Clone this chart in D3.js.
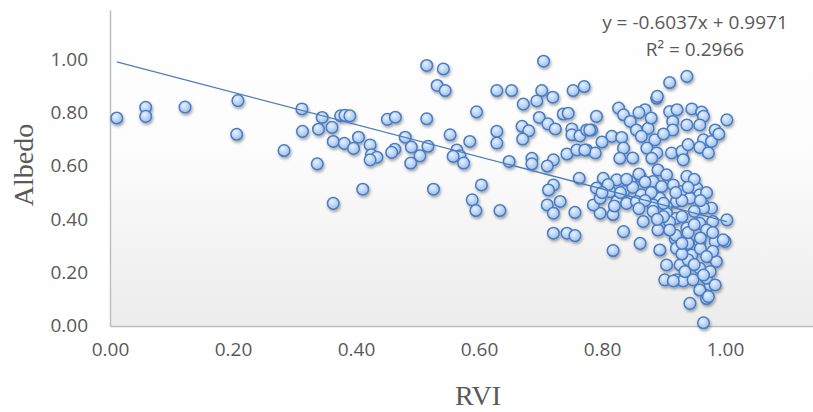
<!DOCTYPE html>
<html>
<head>
<meta charset="utf-8">
<script src="https://cdn.jsdelivr.net/npm/d3@7"></script>
<style>
  body { margin: 0; background: #fff; }
  svg { display: block; }
  .tick text { font-family: 'Open Sans', sans-serif; font-size: 19px; fill: #595959; }
</style>
</head>
<body>
<svg id="chart" width="813" height="412"></svg>
<script>
// RVI (x) and Albedo (y), one point per index
const rvi = [
  0.011, 0.058, 0.058, 0.122, 0.208, 0.206, 0.283, 0.312, 0.313, 0.337,
  0.345, 0.339, 0.361, 0.363, 0.375, 0.382, 0.390, 0.381, 0.396, 0.404,
  0.411, 0.363, 0.515, 0.542, 0.532, 0.545, 0.705, 0.629, 0.653, 0.702,
  0.672, 0.694, 0.720, 0.753, 0.771, 0.451, 0.464, 0.515, 0.596, 0.698,
  0.737, 0.745, 0.712, 0.724, 0.751, 0.670, 0.681, 0.671, 0.629, 0.629,
  0.585, 0.553, 0.480, 0.490, 0.517, 0.504, 0.489, 0.463, 0.458, 0.423,
  0.425, 0.434, 0.423, 0.564, 0.569, 0.575, 0.558, 0.649, 0.686, 0.686,
  0.721, 0.711, 0.743, 0.759, 0.775, 0.751, 0.764, 0.775, 0.763, 0.526,
  0.604, 0.589, 0.595, 0.634, 0.721, 0.713, 0.711, 0.721, 0.732, 0.756,
  0.721, 0.743, 0.756, 0.818, 0.835, 0.797, 0.786, 0.818, 0.862, 0.867,
  0.894, 0.902, 0.921, 0.932, 0.905, 0.943, 0.965, 0.959, 0.970, 0.976,
  0.970, 1.000, 1.003, 0.889, 0.870, 0.910, 0.922, 0.946, 0.962, 0.965,
  1.003, 0.915, 0.938, 0.959, 0.915, 0.984, 0.965, 0.959, 0.973, 0.978,
  0.913, 0.932, 0.930, 0.791, 0.827, 0.835, 0.846, 0.783, 0.816, 0.832,
  0.856, 0.875, 0.864, 0.886, 0.835, 0.829, 0.789, 0.873, 0.889, 0.881,
  0.891, 0.862, 0.938, 0.905, 0.802, 0.824, 0.846, 0.791, 0.813, 0.835,
  0.797, 0.824, 0.840, 0.883, 0.897, 0.916, 0.930, 0.954, 0.959, 0.943,
  0.921, 0.894, 0.883, 0.905, 0.965, 0.978, 0.864, 0.856, 0.883, 0.891,
  0.905, 0.921, 0.938, 0.959, 0.980, 0.965, 0.919, 0.940, 0.959, 0.984,
  0.997, 0.921, 0.946, 0.973, 0.986, 0.927, 0.940, 0.959, 0.976, 0.916,
  0.948, 0.984, 0.973, 0.965, 0.935, 0.938, 0.910, 0.890, 0.932, 0.780,
  0.772, 0.930, 0.950, 0.910, 0.940, 0.970, 0.920, 0.960, 0.930, 0.950,
  0.980, 0.900, 0.880, 0.850, 0.870, 0.820, 0.810, 0.840, 0.860, 0.950,
  0.970, 0.880, 0.860, 0.800, 0.850, 0.900, 0.940, 0.990, 0.900, 0.920,
  0.940, 0.960, 0.890, 0.930, 0.950, 0.910, 0.960, 0.930, 0.870, 0.830,
  0.800, 0.860, 0.980, 0.970
]
const albedo = [
  0.780, 0.820, 0.786, 0.821, 0.845, 0.719, 0.658, 0.814, 0.730, 0.608,
  0.782, 0.738, 0.745, 0.692, 0.788, 0.790, 0.788, 0.685, 0.666, 0.708,
  0.513, 0.460, 0.977, 0.964, 0.902, 0.883, 0.993, 0.883, 0.883, 0.883,
  0.832, 0.844, 0.858, 0.883, 0.898, 0.775, 0.783, 0.777, 0.803, 0.782,
  0.795, 0.798, 0.758, 0.739, 0.739, 0.749, 0.732, 0.701, 0.730, 0.686,
  0.692, 0.717, 0.708, 0.671, 0.674, 0.638, 0.611, 0.663, 0.651, 0.679,
  0.642, 0.633, 0.623, 0.660, 0.638, 0.611, 0.636, 0.617, 0.629, 0.608,
  0.623, 0.600, 0.645, 0.660, 0.660, 0.717, 0.713, 0.735, 0.554, 0.513,
  0.529, 0.473, 0.433, 0.433, 0.529, 0.510, 0.454, 0.423, 0.467, 0.426,
  0.348, 0.348, 0.339, 0.283, 0.354, 0.423, 0.454, 0.418, 0.310, 0.392,
  0.285, 0.173, 0.173, 0.169, 0.229, 0.085, 0.012, 0.135, 0.103, 0.154,
  0.179, 0.317, 0.398, 0.854, 0.811, 0.804, 0.811, 0.814, 0.802, 0.786,
  0.773, 0.767, 0.754, 0.754, 0.735, 0.735, 0.698, 0.670, 0.649, 0.692,
  0.649, 0.628, 0.655, 0.786, 0.817, 0.792, 0.767, 0.735, 0.711, 0.707,
  0.735, 0.741, 0.711, 0.698, 0.667, 0.629, 0.649, 0.667, 0.649, 0.629,
  0.585, 0.561, 0.561, 0.567, 0.554, 0.548, 0.542, 0.517, 0.504, 0.504,
  0.479, 0.467, 0.460, 0.542, 0.523, 0.529, 0.504, 0.517, 0.492, 0.479,
  0.467, 0.479, 0.454, 0.448, 0.454, 0.442, 0.492, 0.467, 0.430, 0.360,
  0.423, 0.404, 0.367, 0.385, 0.392, 0.442, 0.328, 0.310, 0.317, 0.317,
  0.323, 0.291, 0.266, 0.260, 0.242, 0.229, 0.248, 0.216, 0.204, 0.169,
  0.173, 0.154, 0.110, 0.191, 0.204, 0.936, 0.913, 0.861, 0.623, 0.735,
  0.660, 0.470, 0.430, 0.390, 0.350, 0.360, 0.340, 0.290, 0.270, 0.230,
  0.280, 0.410, 0.500, 0.520, 0.470, 0.450, 0.530, 0.550, 0.570, 0.550,
  0.500, 0.780, 0.800, 0.690, 0.630, 0.720, 0.680, 0.720, 0.460, 0.500,
  0.520, 0.470, 0.400, 0.410, 0.380, 0.360, 0.330, 0.310, 0.540, 0.500,
  0.500, 0.440, 0.350, 0.260
]
const xTicks = [0, 0.2, 0.4, 0.6, 0.8, 1.0]
const yTicks = [0, 0.2, 0.4, 0.6, 0.8, 1.0]
const slope = -0.6037
const intercept = 0.9971
const eqLines = ['y = -0.6037x + 0.9971', 'R² = 0.2966']

const svg = d3.select('#chart')
const grey = '#595959'

const x = d3.scaleLinear().domain([0, 1.2]).range([110, 848])
const y = d3.scaleLinear().domain([0, 1.185]).range([326, 10])

const defs = svg.append('defs')

const bg = defs.append('linearGradient')
  .attr('id', 'bgGrad').attr('x1', 0).attr('y1', 0).attr('x2', 0).attr('y2', 1)
bg.append('stop').attr('offset', '0%').attr('stop-color', '#ffffff')
bg.append('stop').attr('offset', '45%').attr('stop-color', '#fcfcfc')
bg.append('stop').attr('offset', '100%').attr('stop-color', '#ececec')

const dot = defs.append('radialGradient')
  .attr('id', 'dotGrad').attr('cx', '40%').attr('cy', '35%').attr('r', '65%')
dot.append('stop').attr('offset', '0%').attr('stop-color', '#e8f1fd')
dot.append('stop').attr('offset', '60%').attr('stop-color', '#b9d3f5')
dot.append('stop').attr('offset', '100%').attr('stop-color', '#9dbeea')

const shadow = defs.append('filter').attr('id', 'shadow')
  .attr('x', '-10%').attr('y', '-10%').attr('width', '120%').attr('height', '120%')
shadow.append('feDropShadow')
  .attr('dx', 1).attr('dy', 2).attr('stdDeviation', 1.6)
  .attr('flood-color', '#000').attr('flood-opacity', 0.35)

// plot area background
svg.append('rect')
  .attr('x', x(0)).attr('y', y.range()[1])
  .attr('width', 813 - x(0)).attr('height', y(0) - y.range()[1])
  .attr('fill', 'url(#bgGrad)')

// axes
const yAxis = svg.append('g')
  .attr('transform', `translate(${x(0)},0)`)
  .call(d3.axisLeft(y).tickValues(yTicks).tickFormat(d3.format('.2f')).tickSize(0).tickPadding(22))
yAxis.select('.domain').attr('stroke', '#bfbfbf').attr('stroke-width', 1.5)
yAxis.selectAll('.tick text').attr('dy', '0.3em')

const xAxis = svg.append('g')
  .attr('transform', `translate(0,${y(0)})`)
  .call(d3.axisBottom(x).tickValues(xTicks).tickFormat(d3.format('.2f')).tickSize(0).tickPadding(17))
xAxis.select('.domain').attr('stroke', '#bfbfbf').attr('stroke-width', 1.5)

// markers
const pts = rvi.map((v, i) => ({ x: v, y: albedo[i] }))
svg.append('g')
  .attr('filter', 'url(#shadow)')
  .selectAll('circle')
  .data(pts)
  .join('circle')
  .attr('cx', d => x(d.x))
  .attr('cy', d => y(d.y))
  .attr('r', 5.8)
  .attr('fill', 'url(#dotGrad)')
  .attr('stroke', '#4a7cc0')
  .attr('stroke-width', 1.5)

// linear trendline over the data range
const [xMin, xMax] = d3.extent(rvi)
const trend = [xMin, xMax].map(v => ({ x: v, y: intercept + slope * v }))
svg.append('path')
  .datum(trend)
  .attr('d', d3.line().x(d => x(d.x)).y(d => y(d.y)))
  .attr('fill', 'none')
  .attr('stroke', '#4a7ebb')
  .attr('stroke-width', 1.3)

// equation label
svg.append('g').selectAll('text')
  .data(eqLines)
  .join('text')
  .attr('x', 695)
  .attr('y', (d, i) => 29 + i * 27)
  .attr('text-anchor', 'middle')
  .attr('font-family', "'Open Sans', sans-serif")
  .attr('font-size', 19)
  .attr('fill', grey)
  .text(d => d)

// axis titles
svg.append('text')
  .attr('x', 478).attr('y', 405)
  .attr('text-anchor', 'middle')
  .attr('font-family', "'Liberation Serif', serif")
  .attr('font-size', 28)
  .attr('fill', grey)
  .text('RVI')

svg.append('text')
  .attr('transform', 'translate(33,165) rotate(-90)')
  .attr('text-anchor', 'middle')
  .attr('font-family', "'Liberation Serif', serif")
  .attr('font-size', 28)
  .attr('fill', grey)
  .text('Albedo')
</script>
</body>
</html>
